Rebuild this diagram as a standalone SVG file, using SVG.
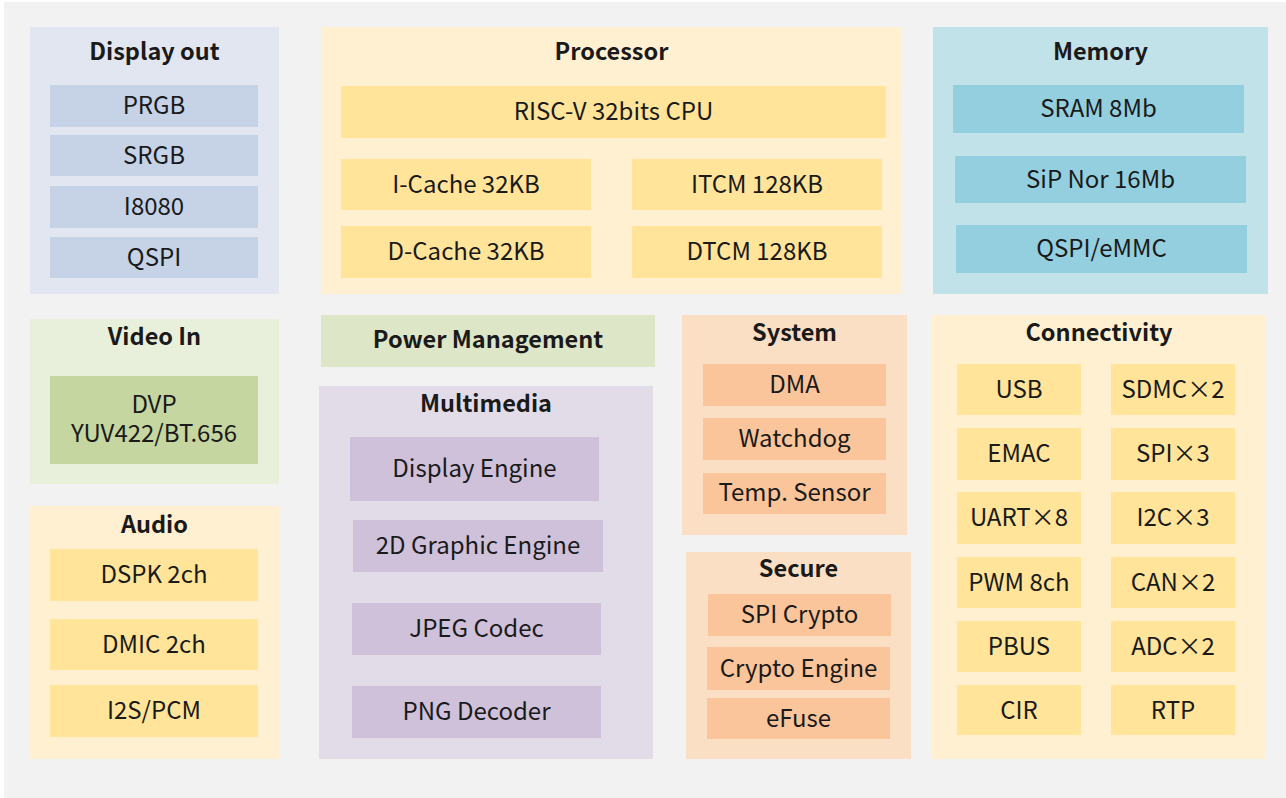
<svg xmlns="http://www.w3.org/2000/svg" width="1286" height="798" viewBox="0 0 1286 798">
<style>
text{font-family:"Noto Sans CJK SC","Noto Sans",sans-serif;font-size:24px;fill:#1a1a1a;text-anchor:middle}
.t{font-weight:bold;font-size:23.5px}
.blue-p{fill:#e1e6f0}.blue-c{fill:#c6d3e6}
.yel-p{fill:#fff0d2}.yel-c{fill:#ffe49a}
.cyan-p{fill:#c2e2ea}.cyan-c{fill:#93cfdf}
.grn-p{fill:#e8f0dc}.grn-c{fill:#c5d6a0}
.pm{fill:#dde6c6}
.pur-p{fill:#e2dbe8}.pur-c{fill:#cfc1da}
.org-p{fill:#fadfc4}.org-c{fill:#fac59a}
</style>
<rect x="0" y="0" width="1286" height="798" fill="#ffffff"/>
<rect x="4" y="2" width="1282" height="796" fill="#f2f2f2"/>
<g id="connectors"/>
<g id="display-out">
<rect class="blue-p" x="30" y="27" width="249" height="267"/>
<text class="t" x="154.5" y="60">Display out</text>
<rect class="blue-c" x="50" y="85" width="208" height="42"/><text x="154" y="114">PRGB</text>
<rect class="blue-c" x="50" y="135" width="208" height="41"/><text x="154" y="164">SRGB</text>
<rect class="blue-c" x="50" y="186" width="208" height="42"/><text x="154" y="215">I8080</text>
<rect class="blue-c" x="50" y="237" width="208" height="41"/><text x="154" y="266">QSPI</text>
</g>
<g id="processor">
<rect class="yel-p" x="321" y="27" width="581" height="267"/>
<text class="t" x="611.5" y="60">Processor</text>
<rect class="yel-c" x="341" y="86" width="545" height="52"/><text x="613.5" y="120">RISC-V 32bits CPU</text>
<rect class="yel-c" x="341" y="159" width="250" height="51"/><text x="466" y="193">I-Cache 32KB</text>
<rect class="yel-c" x="632" y="159" width="250" height="51"/><text x="757" y="193">ITCM 128KB</text>
<rect class="yel-c" x="341" y="226" width="250" height="52"/><text x="466" y="260">D-Cache 32KB</text>
<rect class="yel-c" x="632" y="226" width="250" height="52"/><text x="757" y="260">DTCM 128KB</text>
</g>
<g id="memory">
<rect class="cyan-p" x="933" y="27" width="335" height="267"/>
<text class="t" x="1100.5" y="60">Memory</text>
<rect class="cyan-c" x="953" y="85" width="291" height="48"/><text x="1098.5" y="117">SRAM 8Mb</text>
<rect class="cyan-c" x="955" y="156" width="291" height="47"/><text x="1100.5" y="188">SiP Nor 16Mb</text>
<rect class="cyan-c" x="956" y="225" width="291" height="48"/><text x="1101.5" y="257">QSPI/eMMC</text>
</g>
<g id="video-in">
<rect class="grn-p" x="30" y="319" width="249" height="165"/>
<text class="t" x="154.5" y="345">Video In</text>
<rect class="grn-c" x="50" y="376" width="208" height="88"/>
<text x="154" y="413">DVP</text>
<text x="154" y="442">YUV422/BT.656</text>
</g>
<g id="audio">
<rect class="yel-p" x="30" y="506" width="249" height="253"/>
<text class="t" x="154.5" y="533">Audio</text>
<rect class="yel-c" x="50" y="549" width="208" height="52"/><text x="154" y="583">DSPK 2ch</text>
<rect class="yel-c" x="50" y="619" width="208" height="51"/><text x="154" y="653">DMIC 2ch</text>
<rect class="yel-c" x="50" y="685" width="208" height="52"/><text x="154" y="719">I2S/PCM</text>
</g>
<g id="power-management">
<rect class="pm" x="321" y="315" width="334" height="52"/>
<text class="t" x="488" y="348">Power Management</text>
</g>
<g id="multimedia">
<rect class="pur-p" x="319" y="386" width="334" height="373"/>
<text class="t" x="486" y="412">Multimedia</text>
<rect class="pur-c" x="350" y="437" width="249" height="64"/><text x="474.5" y="477">Display Engine</text>
<rect class="pur-c" x="353" y="520" width="250" height="52"/><text x="478" y="554">2D Graphic Engine</text>
<rect class="pur-c" x="352" y="603" width="249" height="52"/><text x="476.5" y="637">JPEG Codec</text>
<rect class="pur-c" x="352" y="686" width="249" height="52"/><text x="476.5" y="720">PNG Decoder</text>
</g>
<g id="system">
<rect class="org-p" x="682" y="315" width="225" height="220"/>
<text class="t" x="794.5" y="341">System</text>
<rect class="org-c" x="703" y="364" width="183" height="42"/><text x="794.5" y="393">DMA</text>
<rect class="org-c" x="703" y="418" width="183" height="42"/><text x="794.5" y="447">Watchdog</text>
<rect class="org-c" x="703" y="473" width="183" height="41"/><text x="794.5" y="501">Temp. Sensor</text>
</g>
<g id="secure">
<rect class="org-p" x="686" y="552" width="225" height="207"/>
<text class="t" x="798.5" y="577">Secure</text>
<rect class="org-c" x="708" y="594" width="183" height="42"/><text x="799.5" y="623">SPI Crypto</text>
<rect class="org-c" x="707" y="647" width="183" height="43"/><text x="798.5" y="677">Crypto Engine</text>
<rect class="org-c" x="707" y="698" width="183" height="41"/><text x="798.5" y="727">eFuse</text>
</g>
<g id="connectivity">
<rect class="yel-p" x="932" y="315" width="334" height="444"/>
<text class="t" x="1099" y="341">Connectivity</text>
<rect class="yel-c" x="957" y="364" width="124" height="51"/><text x="1019" y="398">USB</text>
<rect class="yel-c" x="1111" y="364" width="124" height="51"/><text x="1173" y="398">SDMC×2</text>
<rect class="yel-c" x="957" y="428" width="124" height="52"/><text x="1019" y="462">EMAC</text>
<rect class="yel-c" x="1111" y="428" width="124" height="52"/><text x="1173" y="462">SPI×3</text>
<rect class="yel-c" x="957" y="492" width="124" height="52"/><text x="1019" y="526">UART×8</text>
<rect class="yel-c" x="1111" y="492" width="124" height="52"/><text x="1173" y="526">I2C×3</text>
<rect class="yel-c" x="957" y="557" width="124" height="51"/><text x="1019" y="591">PWM 8ch</text>
<rect class="yel-c" x="1111" y="557" width="124" height="51"/><text x="1173" y="591">CAN×2</text>
<rect class="yel-c" x="957" y="621" width="124" height="51"/><text x="1019" y="655">PBUS</text>
<rect class="yel-c" x="1111" y="621" width="124" height="51"/><text x="1173" y="655">ADC×2</text>
<rect class="yel-c" x="957" y="685" width="124" height="50"/><text x="1019" y="719">CIR</text>
<rect class="yel-c" x="1111" y="685" width="124" height="50"/><text x="1173" y="719">RTP</text>
</g>
</svg>
